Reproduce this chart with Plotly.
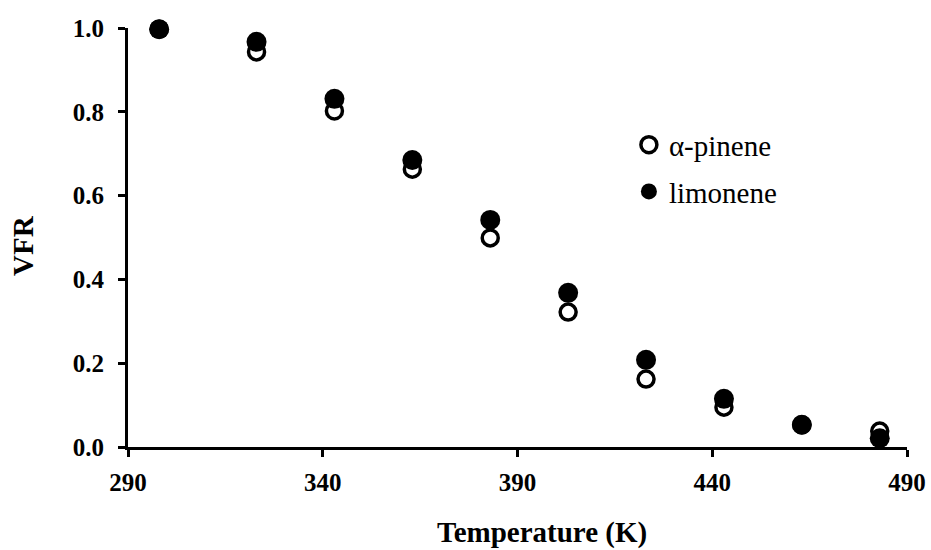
import plotly.graph_objects as go

# Temperature (K) and vapour fraction remaining for each terpene
temperature = [298, 323, 343, 363, 383, 403, 423, 443, 463, 483]
vfr_pinene = [0.997, 0.943, 0.802, 0.663, 0.499, 0.322, 0.162, 0.095, 0.053, 0.038]
vfr_limonene = [0.997, 0.967, 0.831, 0.685, 0.542, 0.368, 0.208, 0.115, 0.053, 0.021]

x_ticks = [290, 340, 390, 440, 490]
y_ticks = [0.0, 0.2, 0.4, 0.6, 0.8, 1.0]

FONT = "Liberation Serif"
TITLE_FONT = dict(family=FONT, size=29, color="black", weight="bold")

fig = go.Figure()
fig.add_trace(go.Scatter(
    x=temperature, y=vfr_pinene, mode="markers", name="α-pinene",
    legendgroup="a",
    marker=dict(symbol="circle-open", size=16, color="black",
                line=dict(width=3.5, color="black")),
    cliponaxis=False,
))
fig.add_trace(go.Scatter(
    x=temperature, y=vfr_limonene, mode="markers", name="limonene",
    legendgroup="b",
    marker=dict(symbol="circle", size=20, color="black"),
    cliponaxis=False,
))

axis_common = dict(
    showgrid=False, zeroline=False, showline=True, linecolor="black",
    linewidth=3, ticks="outside", ticklen=7, tickwidth=3, tickcolor="black",
    automargin=False,
    tickfont=dict(family=FONT, size=25, color="black", weight="bold"),
)

fig.update_layout(
    width=931, height=550,
    margin=dict(l=128, r=24, t=28, b=103),
    plot_bgcolor="white", paper_bgcolor="white",
    showlegend=True,
    legend=dict(
        x=0.643, y=0.665, xanchor="left", yanchor="middle",
        font=dict(family=FONT, size=29, color="black"),
        traceorder="grouped", tracegroupgap=6,
        itemwidth=30, bgcolor="rgba(0,0,0,0)",
    ),
    xaxis=dict(
        range=[290, 490], tickvals=x_ticks, ticktext=[str(v) for v in x_ticks],
        ticklabelstandoff=4,
        **axis_common,
    ),
    yaxis=dict(
        range=[0, 1.0], tickvals=y_ticks, ticktext=[f"{v:.1f}" for v in y_ticks],
        ticklabelstandoff=9,
        **axis_common,
    ),
    annotations=[
        dict(text="Temperature (K)", xref="paper", yref="paper",
             x=0.531, y=-0.205, xanchor="center", yanchor="middle",
             showarrow=False, font=TITLE_FONT),
        dict(text="VFR", xref="paper", yref="paper", textangle=-90,
             x=-0.135, y=0.482, xanchor="center", yanchor="middle",
             showarrow=False, font=TITLE_FONT),
    ],
)

fig.write_html("out.html")
